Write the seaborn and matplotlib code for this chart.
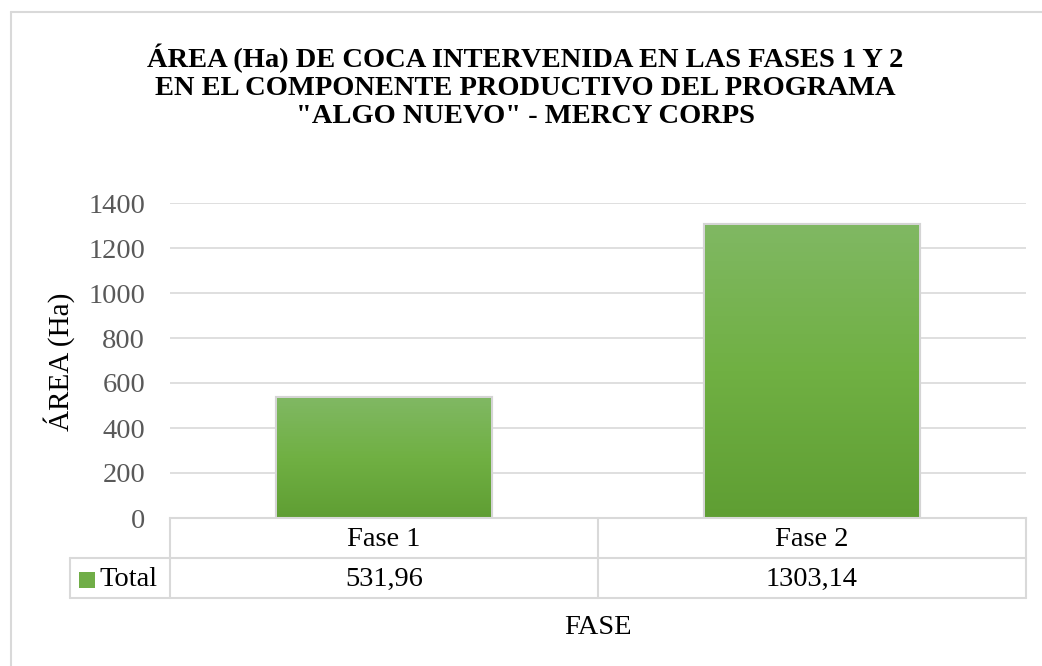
import numpy as np
import pandas as pd
import seaborn as sns
import matplotlib.pyplot as plt
from matplotlib.lines import Line2D
from matplotlib.patches import Rectangle
from matplotlib.colors import LinearSegmentedColormap

# data
fases = ['Fase 1', 'Fase 2']
area_ha = [531.96, 1303.14]
valores_txt = ['531,96', '1303,14']
serie = 'Total'
yticks = [0, 200, 400, 600, 800, 1000, 1200, 1400]

df = pd.DataFrame({'fase': fases, 'area': area_ha})

sns.set_theme(style='white')
plt.rcParams['font.family'] = ['Liberation Serif', 'DejaVu Serif']

W, H = 1042, 666
fig = plt.figure(figsize=(W / 100, H / 100), dpi=100)

def px(x, y):
    return x / W, 1 - y / H

# plot area in pixels: x 170..1026, y 203..518
ax = fig.add_axes([170 / W, 1 - 518 / H, (1026 - 170) / W, (518 - 203) / H])

sns.barplot(data=df, x='fase', y='area', ax=ax, width=0.5,
            color='#70ad47', edgecolor='#d4d4d4', linewidth=3, saturation=1)

# gradient fill on bars
grad = LinearSegmentedColormap.from_list('g', ['#5f9e33', '#70b043', '#80b863'])
gimg = np.linspace(0, 1, 256).reshape(-1, 1)
for p in ax.patches:
    x0, y0 = p.get_x(), p.get_y()
    w, h = p.get_width(), p.get_height()
    im = ax.imshow(gimg, cmap=grad, aspect='auto', origin='lower',
                   extent=[x0, x0 + w, y0, y0 + h], zorder=p.get_zorder() + 0.1)
    im.set_clip_path(p)

fs = 20.5
ax.set_xlim(-0.5, 1.5)
ax.set_ylim(0, 1400)
ax.set_yticks(yticks)
ax.set_yticklabels([str(t) for t in yticks], color='#595959', fontsize=fs)
ax.tick_params(axis='y', length=0, pad=18)
ax.set_xticks([])
ax.set_xlabel('')
ax.set_ylabel('')
ax.yaxis.grid(True, color='#d9d9d9', linewidth=1.2)
ax.set_axisbelow(True)
for s in ['top', 'right', 'left']:
    ax.spines[s].set_visible(False)
ax.spines['bottom'].set_color('#d9d9d9')
ax.spines['bottom'].set_linewidth(1.5)

# data table lines (figure pixel coordinates)
lc = '#d9d9d9'
def hline(x0, x1, y):
    fig.add_artist(Line2D([x0 / W, x1 / W], [1 - y / H, 1 - y / H], color=lc, lw=1.5))
def vline(x, y0, y1):
    fig.add_artist(Line2D([x / W, x / W], [1 - y0 / H, 1 - y1 / H], color=lc, lw=1.5))

hline(70, 1026, 558)
hline(70, 1026, 598)
vline(170, 518, 598)
vline(598, 518, 598)
vline(1026, 518, 598)
vline(70, 558, 598)

centers = [384, 812]
for cx, f, v in zip(centers, fases, valores_txt):
    fig.text(*px(cx, 539), f, ha='center', va='center', fontsize=fs, color='#000000')
    fig.text(*px(cx, 579), v, ha='center', va='center', fontsize=fs, color='#000000')

fig.add_artist(Rectangle(px(79, 588), 16 / W, 16 / H, transform=fig.transFigure,
                         facecolor='#70ad47', edgecolor='none'))
fig.text(*px(99, 579), serie, ha='left', va='center', fontsize=fs, color='#000000')

# axis titles
fig.text(*px(598, 627), 'FASE', ha='center', va='center', fontsize=fs, color='#000000')
fig.text(*px(59, 362), 'ÁREA (Ha)', ha='center', va='center', rotation=90,
         fontsize=21, color='#000000')

# chart title
fig.text(*px(525, 86),
         'ÁREA (Ha) DE COCA INTERVENIDA EN LAS FASES 1 Y 2\n'
         'EN EL COMPONENTE PRODUCTIVO DEL PROGRAMA\n'
         '"ALGO NUEVO" - MERCY CORPS',
         ha='center', va='center', fontsize=20.5, fontweight='bold',
         color='#000000', linespacing=1.15)

# outer chart border
fig.add_artist(Line2D([11 / W, 11 / W], [0, 1 - 12 / H], color=lc, lw=1.5))
fig.add_artist(Line2D([11 / W, 1], [1 - 12 / H, 1 - 12 / H], color=lc, lw=1.5))

fig.savefig('out.png', dpi=100)
